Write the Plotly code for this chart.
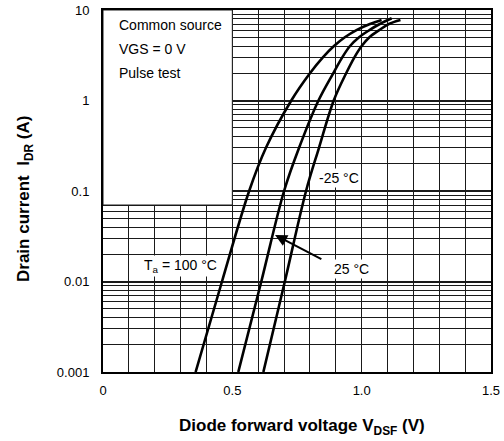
import plotly.graph_objects as go

# Data
v_100 = [0.358, 0.46, 0.565, 0.63, 0.728, 0.80, 0.85, 0.893, 0.935, 0.98, 1.032, 1.077]
i_100 = [0.001, 0.01, 0.1, 0.3, 1.0, 2.0, 3.0, 4.0, 5.0, 6.0, 7.0, 7.75]

v_25 = [0.523, 0.612, 0.70, 0.758, 0.833, 0.89, 0.925, 0.955, 0.99, 1.03, 1.07, 1.116]
i_25 = [0.001, 0.01, 0.1, 0.3, 1.0, 2.0, 3.0, 4.0, 5.0, 6.0, 7.0, 8.1]

v_m25 = [0.62, 0.703, 0.785, 0.835, 0.892, 0.94, 0.972, 1.0, 1.03, 1.068, 1.105, 1.15]
i_m25 = [0.001, 0.01, 0.1, 0.3, 1.0, 2.0, 3.0, 4.0, 5.0, 6.0, 7.0, 7.75]

x_ticks = [0, 0.5, 1.0, 1.5]
x_ticktext = ["0", "0.5", "1.0", "1.5"]
x_grid = [round(0.1 * k, 1) for k in range(1, 15)]
y_ticks = [0.001, 0.01, 0.1, 1, 10]
y_ticktext = ["0.001", "0.01", "0.1", "1", "10"]
y_minor = [m * 10 ** e for e in range(-3, 1) for m in range(2, 10)]

FONT = "Arial, Liberation Sans, sans-serif"
GRID = "#1a1a1a"

fig = go.Figure()
for xs, ys in [(v_100, i_100), (v_25, i_25), (v_m25, i_m25)]:
    fig.add_trace(go.Scatter(x=xs, y=ys, mode="lines",
                             line=dict(color="black", width=2.6, shape="spline", smoothing=1.0),
                             showlegend=False, hoverinfo="skip"))

# white box behind the conditions text
fig.add_shape(type="rect", xref="x", yref="y", x0=0, x1=0.5, y0=0.07, y1=10,
              fillcolor="white", line=dict(color=GRID, width=1), layer="between")

fig.update_layout(
    width=504, height=441,
    margin=dict(l=103, r=13, t=10, b=69, autoexpand=False),
    paper_bgcolor="white", plot_bgcolor="white",
    font=dict(family=FONT, size=13, color="black"),
    xaxis=dict(range=[0, 1.5], tickvals=x_ticks, ticktext=x_ticktext, automargin=False,
               showgrid=False, zeroline=False, ticks="", ticklabelstandoff=5,
               showline=True, linecolor="black", linewidth=2, mirror=True,
               minor=dict(tickvals=x_grid, showgrid=True, gridcolor=GRID, gridwidth=1, ticks="")),
    yaxis=dict(type="log", range=[-3, 1], tickvals=y_ticks, ticktext=y_ticktext, automargin=False,
               showgrid=True, gridcolor=GRID, gridwidth=1.6, zeroline=False, ticks="",
               ticklabelstandoff=9,
               showline=True, linecolor="black", linewidth=2, mirror=True,
               minor=dict(tickvals=y_minor, showgrid=True, gridcolor=GRID, gridwidth=1, ticks="")),
)

fig.add_annotation(x=0.514, y=-0.152, xref="paper", yref="paper", showarrow=False,
                   xanchor="center", yanchor="middle",
                   text="<b>Diode forward voltage V<sub>DSF</sub> (V)</b>",
                   font=dict(family=FONT, size=17, color="black"))
fig.add_annotation(x=-0.201, y=0.478, xref="paper", yref="paper", showarrow=False, textangle=-90,
                   xanchor="center", yanchor="middle",
                   text="<b>Drain current  I<sub>DR</sub> (A)</b>",
                   font=dict(family=FONT, size=17, color="black"))

ann = dict(showarrow=False, font=dict(family=FONT, size=14, color="black"))
fig.add_annotation(x=0.053, y=0.83, xref="x", yref="y", xanchor="left",
                   text="Common source", **ann)
fig.add_annotation(x=0.053, y=0.565, xref="x", yref="y", xanchor="left",
                   text="VGS = 0 V", **ann)
fig.add_annotation(x=0.053, y=0.30, xref="x", yref="y", xanchor="left",
                   text="Pulse test", **ann)
fig.add_annotation(x=0.298, y=-1.829, xref="x", yref="y", text="T<sub>a</sub> = 100 °C",
                   bgcolor="white", **ann)
fig.add_annotation(x=0.914, y=-0.853, xref="x", yref="y", text="-25 °C",
                   bgcolor="white", **ann)
fig.add_annotation(x=0.961, y=-1.865, xref="x", yref="y", text="25 °C",
                   bgcolor="white", **ann)
fig.add_annotation(x=0.665, y=-1.486, ax=0.85, ay=-1.762, xref="x", yref="y",
                   axref="x", ayref="y", text="", showarrow=True,
                   arrowhead=2, arrowsize=1.2, arrowwidth=2, arrowcolor="black")

fig.write_html("out.html", config={"displayModeBar": False},
               post_script="document.body.style.margin='0';")
